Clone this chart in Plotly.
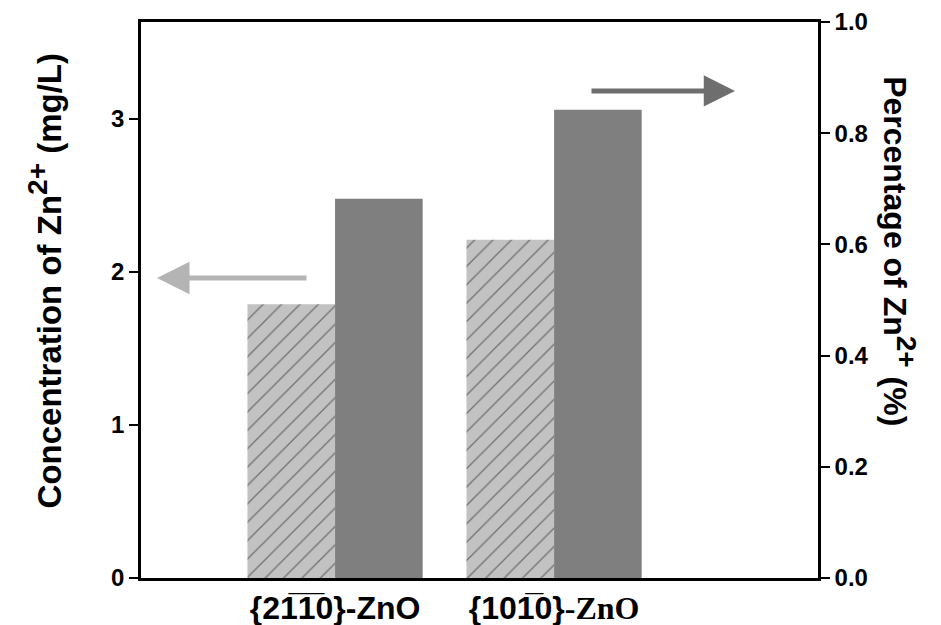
import plotly.graph_objects as go

tick_labels = ["<b>{2" + "1\u0305" + "1\u0305" + "0}-ZnO</b>",
               "<b>{10" + "1\u0305" + "0}</b><b style='font-family:Liberation Serif'>-ZnO</b>"]
concentration = [1.79, 2.21]      # mg/L (left axis)
percentage = [0.682, 0.842]       # % (right axis)
xpos = [0, 1]
left_ticks = [0, 1, 2, 3]
right_ticks = [0, 0.2, 0.4, 0.6, 0.8, 1.0]

fig = go.Figure()
fig.add_trace(go.Bar(
    x=xpos, y=concentration, width=0.4, offset=-0.4,
    marker=dict(color="#c2c2c2", line=dict(width=0),
                pattern=dict(shape="/", fgcolor="#1e1e1e", bgcolor="#c2c2c2", size=13, solidity=0.1)),
    yaxis="y", showlegend=False))
fig.add_trace(go.Bar(
    x=xpos, y=percentage, width=0.4, offset=0.0,
    marker=dict(color="#7f7f7f", line=dict(width=0)),
    yaxis="y2", showlegend=False))

font_tick = dict(family="Liberation Sans, Arial", size=24, color="black")
fig.update_layout(
    width=941, height=625,
    margin=dict(l=141, r=123, t=22, b=47, autoexpand=False),
    plot_bgcolor="white", paper_bgcolor="white",
    barmode="overlay",
    xaxis=dict(range=[-0.886, 2.205], tickvals=xpos, ticktext=tick_labels, automargin=False,
               showline=True, linecolor="black", linewidth=2.5, mirror=True,
               ticks="", showgrid=False, zeroline=False, ticklabelstandoff=0,
               tickfont=dict(family="Liberation Sans, Arial", size=32, color="black")),
    yaxis=dict(range=[0, 3.634], tickvals=left_ticks, ticktext=["<b>%d</b>" % v for v in left_ticks],
               automargin=False,
               showline=True, linecolor="black", linewidth=2.5, ticks="outside", ticklen=9, tickwidth=2,
               tickcolor="black", showgrid=False, zeroline=False, tickfont=font_tick),
    yaxis2=dict(range=[0, 1.0], overlaying="y", side="right", automargin=False,
                tickvals=right_ticks, ticktext=["<b>%.1f</b>" % v for v in right_ticks],
                showline=True, linecolor="black", linewidth=2.5, ticks="outside", ticklen=9, tickwidth=2,
                tickcolor="black", showgrid=False, zeroline=False, tickfont=font_tick),
)

sup = "<sup><span style='font-size:28px'>2+</span></sup>"
fig.add_annotation(text="<b>Concentration of Zn" + sup + " (mg/L)</b>", xref="paper", yref="paper",
                   x=-0.142, y=0.535, xanchor="center", yanchor="middle", textangle=-90, showarrow=False,
                   font=dict(family="Liberation Sans, Arial", size=33, color="black"))
fig.add_annotation(text="<b>Percentage of Zn" + sup + " (%)</b>", xref="paper", yref="paper",
                   x=1.121, y=0.588, xanchor="center", yanchor="middle", textangle=90, showarrow=False,
                   font=dict(family="Liberation Sans, Arial", size=32, color="black"))

# direction arrows
fig.add_annotation(x=-0.813, y=1.96, xref="x", yref="y", ax=151, ay=0,
                   text="", showarrow=True, arrowhead=2, arrowsize=1.3, arrowwidth=5, arrowcolor="#b4b4b4")
fig.add_annotation(x=1.826, y=0.876, xref="x", yref="y2", ax=-145, ay=0,
                   text="", showarrow=True, arrowhead=2, arrowsize=1.25, arrowwidth=5, arrowcolor="#6e6e6e")

fig.write_html("out.html")
